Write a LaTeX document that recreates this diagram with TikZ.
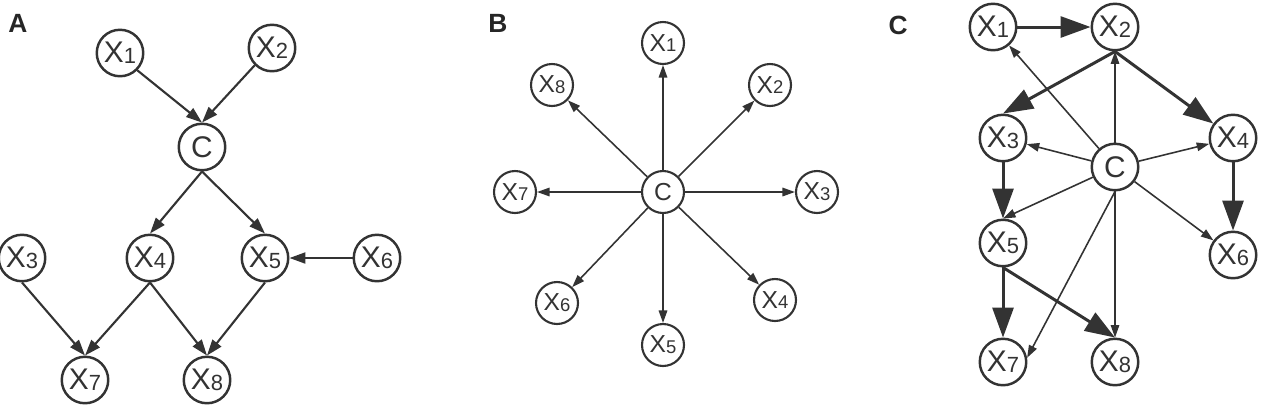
\documentclass[tikz,border=0pt]{standalone}
\usepackage{fontspec}
\setmainfont{Liberation Sans}
\usetikzlibrary{arrows.meta}

\newcommand{\xvar}[2][12.5]{X{\fontsize{#1}{#1}\selectfont\raisebox{-0.5pt}{#2}}}

\tikzset{
    var/.style={circle, draw=black!80, line width=1.4pt, minimum size=0.93cm, inner sep=0pt, font=\fontsize{17}{17}\selectfont, text=black!80},
    varsm/.style={var, minimum size=0.84cm, line width=1.2pt, font=\fontsize{14}{14}\selectfont},
    panel/.style={font=\fontsize{15}{15}\selectfont\bfseries, text=black!85},
    edge/.style={draw=black!80, line width=1.2pt, -{Triangle[length=0.32cm,width=0.22cm]}},
    thinedge/.style={draw=black!80, line width=0.9pt, -{Triangle[length=0.25cm,width=0.17cm]}},
    thickedge/.style={draw=black!80, line width=1.7pt, -{Triangle[length=0.6cm,width=0.42cm]}}
}

\begin{document}
\begin{tikzpicture}[x=0.02cm,y=0.02cm]
\useasboundingbox (0,0) rectangle (1263,-407);

% A
\node[panel] (labA) at (18,-23) {A};
\node[var] (a1) at (120,-53) {\xvar{1}};
\node[var] (a2) at (272,-48) {\xvar{2}};
\node[var] (aC) at (202,-147) {C};
\node[var] (a3) at (22,-258) {\xvar{3}};
\node[var] (a4) at (150,-258) {\xvar{4}};
\node[var] (a5) at (265,-258) {\xvar{5}};
\node[var] (a6) at (377,-258) {\xvar{6}};
\node[var] (a7) at (85,-380) {\xvar{7}};
\node[var] (a8) at (207,-380) {\xvar{8}};
\draw[edge] (a1.south east) -- (aC.north);
\draw[edge] (a2.south west) -- (aC.north);
\draw[edge] (aC.south) -- (a4.north);
\draw[edge] (aC.south) -- (a5.north);
\draw[edge] (a6.west) -- (a5.east);
\draw[edge] (a3.south) -- (a7.north);
\draw[edge] (a4.south) -- (a7.north);
\draw[edge] (a4.south) -- (a8.north);
\draw[edge] (a5.south) -- (a8.north);

% B
\node[panel] (labB) at (498,-23) {B};
\node[varsm] (bC) at (663,-192) {C};
\node[varsm] (b1) at (663,-43) {\xvar[10.5]{1}};
\node[varsm] (b2) at (770,-85) {\xvar[10.5]{2}};
\node[varsm] (b3) at (817,-192) {\xvar[10.5]{3}};
\node[varsm] (b4) at (775,-300) {\xvar[10.5]{4}};
\node[varsm] (b5) at (663,-345) {\xvar[10.5]{5}};
\node[varsm] (b6) at (557,-303) {\xvar[10.5]{6}};
\node[varsm] (b7) at (515,-192) {\xvar[10.5]{7}};
\node[varsm] (b8) at (552,-85) {\xvar[10.5]{8}};
\draw[thinedge] (bC) -- (b1);
\draw[thinedge] (bC) -- (b2);
\draw[thinedge] (bC) -- (b3);
\draw[thinedge] (bC) -- (b4);
\draw[thinedge] (bC) -- (b5);
\draw[thinedge] (bC) -- (b6);
\draw[thinedge] (bC) -- (b7);
\draw[thinedge] (bC) -- (b8);

% C
\node[panel] (labC) at (898,-25) {C};
\node[var] (c1) at (993,-27) {\xvar{1}};
\node[var] (c2) at (1115,-27) {\xvar{2}};
\node[var] (c3) at (1003,-138) {\xvar{3}};
\node[var] (c4) at (1233,-138) {\xvar{4}};
\node[var] (cC) at (1115,-167) {C};
\node[var] (c5) at (1003,-243) {\xvar{5}};
\node[var] (c6) at (1233,-255) {\xvar{6}};
\node[var] (c7) at (1003,-362) {\xvar{7}};
\node[var] (c8) at (1115,-362) {\xvar{8}};
\draw[thickedge] (c1.east) -- (c2.west);
\draw[thickedge] (c2.south) -- (c3.north);
\draw[thickedge] (c2.south) -- (c4);
\draw[thickedge] (c3.south) -- (c5.north);
\draw[thickedge] (c4.south) -- (c6.north);
\draw[thickedge] (c5.south) -- (c7.north);
\draw[thickedge] (c5.south) -- (c8.north);
\draw[thinedge] (cC) -- (c1);
\draw[thinedge] (cC.north) -- (c2.south);
\draw[thinedge] (cC) -- (c3);
\draw[thinedge] (cC) -- (c4);
\draw[thinedge] (cC) -- (c5.north);
\draw[thinedge] (cC) -- (c6);
\draw[thinedge] (cC.south) -- (c7.10);
\draw[thinedge] (cC.south) -- (c8.north);
\end{tikzpicture}
\end{document}
